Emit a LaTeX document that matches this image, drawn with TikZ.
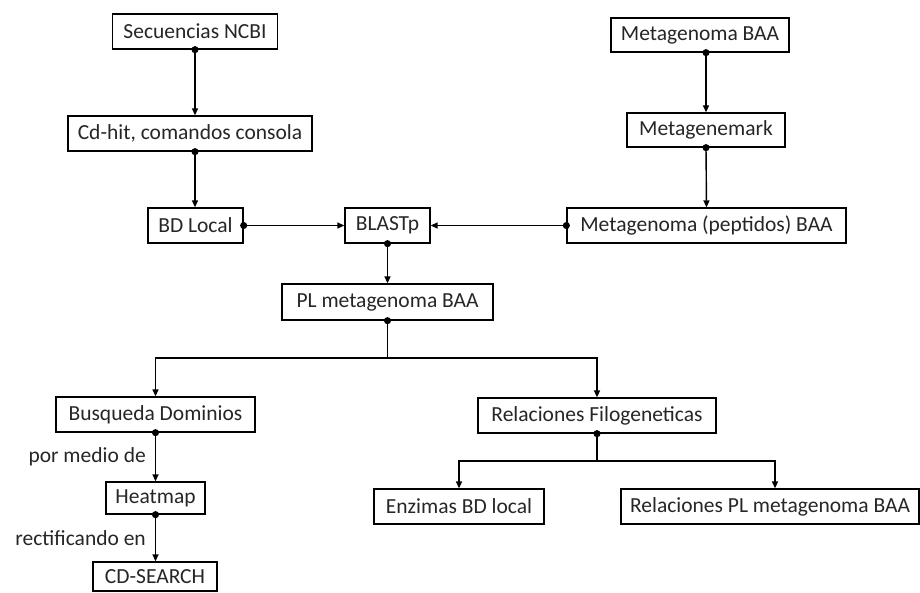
\documentclass[tikz,border=0pt]{standalone}
\usepackage{fontspec}
\setmainfont{Carlito}
\usetikzlibrary{arrows.meta}
\begin{document}
\begin{tikzpicture}[x=1pt,y=-1pt,
  box/.style={draw, line width=1.3pt, inner sep=0pt, text=black!85,
    font=\fontsize{21.5}{24}\selectfont},
  conn/.style={line width=1.4pt, shorten <=-3.5pt,
    {Circle[length=7pt]}-{Triangle[length=7pt,width=6pt]}},
  plain/.style={line width=1.4pt, -{Triangle[length=7pt,width=6pt]}},
  seg/.style={line width=1.4pt},
  lbl/.style={text=black!85, font=\fontsize{21.5}{24}\selectfont, inner sep=9pt}]
\fill[white] (0,0) rectangle (920,592);
\useasboundingbox (0,0) rectangle (920,592);

% boxes: center (x,y), width, height
\node[box, minimum width=165pt, minimum height=35pt] (sec)    at (195,31.5)  {Secuencias NCBI};
\node[box, minimum width=244pt, minimum height=35pt] (cdhit)  at (190,133.5) {Cd-hit, comandos consola};
\node[box, minimum width=95pt,  minimum height=35pt] (bdl)    at (195.5,225.5) {BD Local};
\node[box, minimum width=85pt,  minimum height=35pt] (blast)  at (387.5,225.5) {BLASTp};
\node[box, minimum width=279pt, minimum height=35pt] (pep)    at (706.5,225.5) {Metagenoma (peptidos) BAA};
\node[box, minimum width=178pt, minimum height=34pt] (mgbaa)  at (700,35)    {Metagenoma BAA};
\node[box, minimum width=158pt, minimum height=34pt] (mgmark) at (706,130)   {Metagenemark};
\node[box, minimum width=211pt, minimum height=36pt] (pl)     at (387.5,302) {PL metagenoma BAA};
\node[box, minimum width=199pt, minimum height=35pt] (busq)   at (155.5,414.5) {Busqueda Dominios};
\node[box, minimum width=238pt, minimum height=35pt] (relf)   at (597,415.5) {Relaciones Filogeneticas};
\node[box, minimum width=99pt,  minimum height=32pt] (heat)   at (155.5,498) {Heatmap};
\node[box, minimum width=124pt, minimum height=29pt] (cds)    at (155,576.5) {CD-SEARCH};
\node[box, minimum width=170pt, minimum height=35pt] (enz)    at (459,506.5) {Enzimas BD local};
\node[box, minimum width=298pt, minimum height=35pt] (relpl)  at (770,506.5) {Relaciones PL metagenoma BAA};

% helper levels
\coordinate (h1) at (0,358);
\coordinate (h2) at (0,461);

% connectors
\draw[conn] (sec.south) -- (sec.south |- cdhit.north);
\draw[conn] (cdhit.south -| sec.south) -- (sec.south |- bdl.north);
\draw[conn] (mgbaa.south -| mgmark.north) -- (mgmark.north);
\draw[conn] (mgmark.south) -- (pep.north);
\draw[conn] (bdl.east) -- (blast.west);
\draw[conn] (pep.west) -- (blast.east);
\draw[conn] (blast.south) -- (blast.south |- pl.north);

\draw[seg, shorten <=-3.5pt, {Circle[length=7pt]}-] (pl.south) -- (pl.south |- h1);
\draw[plain] (pl.south |- h1) -| (busq.north);
\draw[plain] (pl.south |- h1) -| (relf.north);

\draw[conn] (busq.south) -- node[lbl, left] (l1) {por medio de} (heat.north);
\draw[conn] (heat.south) -- node[lbl, left] (l2) {rectificando en} (heat.south |- cds.north);

\draw[seg, shorten <=-3.5pt, {Circle[length=7pt]}-] (relf.south) -- (relf.south |- h2);
\draw[plain] (relf.south |- h2) -| (enz.north);
\draw[plain] (relf.south |- h2) -| ([xshift=5pt]relpl.north);
\end{tikzpicture}
\end{document}
